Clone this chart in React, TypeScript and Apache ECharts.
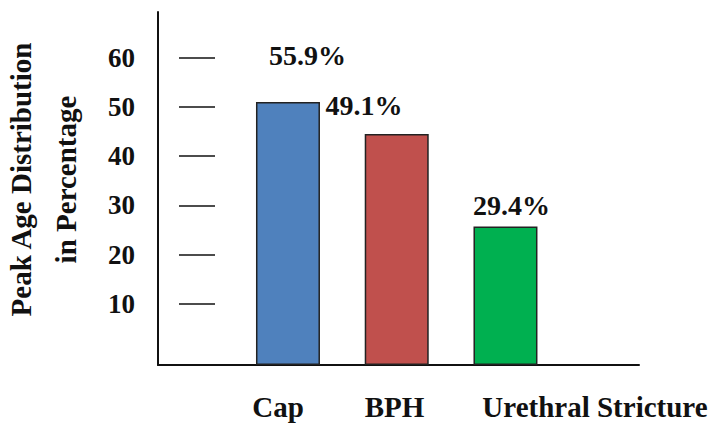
import { useEffect, useRef } from "react";
import * as echarts from "echarts";

// Peak age distribution by diagnosis (percent)
const categories = ["Cap", "BPH", "Urethral Stricture"];
const peakAgePercent = [55.9, 49.1, 29.4];
const tickValues = [10, 20, 30, 40, 50, 60];
const barColors = ["#4F81BD", "#C0504D", "#00B050"];

const FONT = "Liberation Serif";
const INK = "#111";

export default function App() {
  const ref = useRef<HTMLDivElement>(null);

  useEffect(() => {
    const chart = echarts.init(ref.current!, null, { renderer: "svg" });

    // per-bar nudges for the value labels and category captions
    const labelShift: [number, number][] = [
      [19.5, -27],
      [-32.75, -9],
      [6, -2.6],
    ];
    const captionPadding = [
      [0, 20, 0, 0],
      [0, 4.5, 0, 0],
      [0, 0, 0, 179],
    ];

    chart.setOption({
      animation: false,
      backgroundColor: "#fff",
      grid: [
        { left: 158, right: 72, top: 12, bottom: 62, outerBoundsMode: "none" }, // axis frame
        { left: 233.6, right: 151.15, top: 12, bottom: 62, outerBoundsMode: "none" }, // bars
        { left: 215, width: 100, top: 8.6, bottom: 74, outerBoundsMode: "none" }, // tick dashes + numbers
      ],
      xAxis: [
        {
          gridIndex: 0,
          type: "value",
          min: 0,
          max: 1,
          axisLine: { show: true, onZero: false, lineStyle: { color: INK, width: 2 } },
          axisTick: { show: false },
          axisLabel: { show: false },
          splitLine: { show: false },
        },
        {
          gridIndex: 1,
          type: "category",
          data: categories.map((c, i) => ({
            value: c,
            textStyle: { padding: captionPadding[i] },
          })),
          axisLine: { show: false },
          axisTick: { show: false },
          axisLabel: {
            interval: 0,
            margin: 27,
            fontSize: 29,
            fontWeight: "bold",
            fontFamily: FONT,
            color: INK,
          },
        },
        { gridIndex: 2, type: "value", show: false },
      ],
      yAxis: [
        {
          gridIndex: 0,
          type: "value",
          min: 0,
          max: 75,
          axisLine: { show: true, onZero: false, lineStyle: { color: INK, width: 2 } },
          axisTick: { show: false },
          axisLabel: { show: false },
          splitLine: { show: false },
          name: "Peak Age Distribution\nin Percentage",
          nameLocation: "middle",
          nameRotate: 90,
          nameGap: 70,
          nameTextStyle: {
            fontSize: 29,
            fontWeight: "bold",
            fontFamily: FONT,
            color: INK,
            lineHeight: 45,
            padding: [0, 0, 0, 18],
          },
        },
        { gridIndex: 1, type: "value", min: 0, max: 75, show: false },
        {
          gridIndex: 2,
          type: "value",
          min: 0,
          max: 70,
          axisLine: { show: false },
          axisTick: {
            show: true,
            length: 36,
            customValues: tickValues,
            lineStyle: { color: INK, width: 1.5 },
          },
          axisLabel: {
            show: true,
            customValues: tickValues,
            margin: 80,
            fontSize: 27,
            fontWeight: "bold",
            fontFamily: FONT,
            color: INK,
            padding: [0, 0, 4, 0],
          },
          splitLine: { show: false },
        },
      ],
      series: [
        {
          type: "bar",
          xAxisIndex: 1,
          yAxisIndex: 1,
          barWidth: 64,
          data: peakAgePercent.map((v, i) => ({
            value: v,
            itemStyle: { color: barColors[i] },
            label: { offset: labelShift[i] },
          })),
          itemStyle: { borderColor: "#222", borderWidth: 1.5 },
          label: {
            show: true,
            position: "top",
            formatter: "{c}%",
            fontSize: 28,
            fontWeight: "bold",
            fontFamily: FONT,
            color: INK,
          },
        },
      ],
    });

    return () => chart.dispose();
  }, []);

  return (
    <div
      ref={ref}
      style={{ position: "fixed", left: 0, top: 0, width: 711, height: 427 }}
    />
  );
}
